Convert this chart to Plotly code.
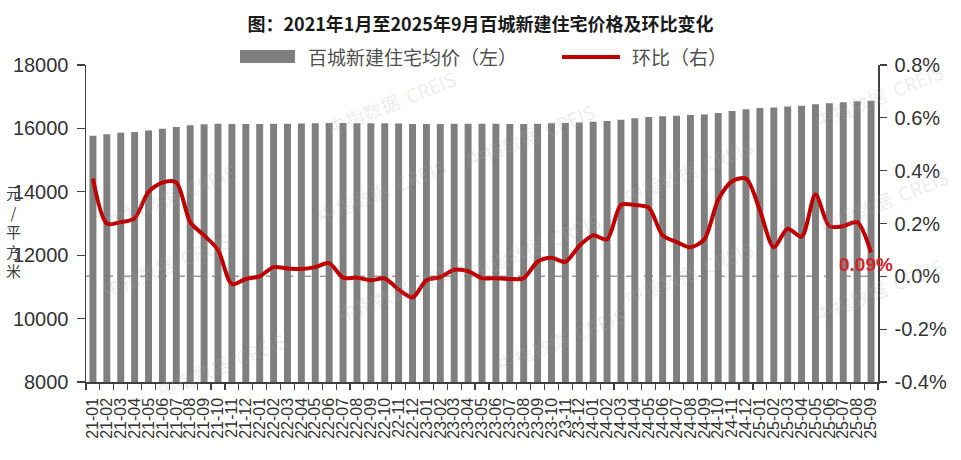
import plotly.graph_objects as go

# ---------------- data ----------------
months = [f"{y % 100:02d}-{m:02d}" for y in range(2021, 2026) for m in range(1, 13)][:57]

price = [15770, 15815, 15860, 15885, 15935, 15990, 16045, 16100, 16128, 16143,
         16140, 16138, 16139, 16144, 16149, 16154, 16160, 16168, 16167, 16166,
         16164, 16163, 16155, 16142, 16140, 16139, 16143, 16146, 16145, 16144,
         16142, 16141, 16150, 16161, 16170, 16188, 16212, 16234, 16276, 16318,
         16358, 16382, 16402, 16420, 16442, 16488, 16545, 16604, 16643, 16660,
         16690, 16714, 16764, 16795, 16826, 16858, 16872]

mom = [0.37, 0.20, 0.205, 0.22, 0.32, 0.355, 0.355, 0.205, 0.155, 0.10,
       -0.03, -0.01, 0.00, 0.035, 0.03, 0.028, 0.035, 0.05, -0.005, -0.005,
       -0.015, -0.008, -0.05, -0.08, -0.015, -0.003, 0.025, 0.02, -0.007, -0.007,
       -0.01, -0.007, 0.055, 0.07, 0.055, 0.115, 0.155, 0.14, 0.27, 0.27,
       0.26, 0.155, 0.13, 0.11, 0.14, 0.29, 0.36, 0.37, 0.25, 0.11,
       0.18, 0.15, 0.31, 0.19, 0.19, 0.205, 0.09]

left_ticks = [8000, 10000, 12000, 14000, 16000, 18000]
left_text = ["8000", "10000", "12000", "14000", "16000", "18000"]
right_ticks = [-0.4, -0.2, 0.0, 0.2, 0.4, 0.6, 0.8]
right_text = ["-0.4%", "-0.2%", "0.0%", "0.2%", "0.4%", "0.6%", "0.8%"]

title = "图：2021年1月至2025年9月百城新建住宅价格及环比变化"
bar_name = "百城新建住宅均价（左）"
line_name = "环比（右）"
y_title = "元<br>/<br>平<br>方<br>米"
last_label = "0.09%"
watermark = "中指数据  CREIS"

# ---------------- style ----------------
W, H = 961, 460
ML, MR, MT, MB = 86, 83, 65, 78
PW, PH = W - ML - MR, H - MT - MB

def px(x):
    return (x - ML) / PW

def py(y):
    return (H - MB - y) / PH

NUM_FONT = "Liberation Sans, Arial, sans-serif"
CJK_FONT = "Noto Sans CJK SC, sans-serif"
AXIS_COLOR = "#404040"
BAR_COLOR = "#7f7f7f"
LINE_COLOR = "#c00000"

fig = go.Figure()

fig.add_trace(go.Bar(
    x=months, y=price, name=bar_name,
    marker=dict(color=BAR_COLOR, line=dict(width=0)),
    yaxis="y", showlegend=False, hoverinfo="skip",
))

fig.add_trace(go.Scatter(
    x=months, y=mom, name=line_name, mode="lines",
    line=dict(color=LINE_COLOR, width=4, shape="spline", smoothing=0.8),
    yaxis="y2", showlegend=False, hoverinfo="skip",
))

shapes = []
# zero reference line of the right axis (dashed, behind bars)
shapes.append(dict(type="line", xref="paper", x0=0, x1=1, yref="y2", y0=0, y1=0,
                   line=dict(color="#9a9a9a", width=1.5, dash="dash"), layer="below"))
# custom legend
shapes.append(dict(type="rect", xref="paper", yref="paper",
                   x0=px(240), x1=px(295), y0=py(63), y1=py(50),
                   fillcolor=BAR_COLOR, line=dict(width=0)))
shapes.append(dict(type="line", xref="paper", yref="paper",
                   x0=px(562), x1=px(620), y0=py(57), y1=py(57),
                   line=dict(color=LINE_COLOR, width=4)))

annotations = []
annotations.append(dict(xref="paper", yref="paper", x=px(306), y=py(57),
                        text=bar_name, showarrow=False, xanchor="left", yanchor="middle",
                        font=dict(family=CJK_FONT, size=19, color="#505050")))
annotations.append(dict(xref="paper", yref="paper", x=px(630), y=py(57),
                        text=line_name, showarrow=False, xanchor="left", yanchor="middle",
                        font=dict(family=CJK_FONT, size=19, color="#505050")))
# y axis title (stacked characters)
annotations.append(dict(xref="paper", yref="paper", x=px(13), y=py(231),
                        text=y_title, showarrow=False, xanchor="center", yanchor="middle",
                        font=dict(family=CJK_FONT, size=15, color=AXIS_COLOR)))
# last value label
annotations.append(dict(x=months[-1], y=mom[-1], xref="x", yref="y2",
                        text="<b>" + last_label + "</b>", showarrow=False,
                        xanchor="center", yanchor="top", xshift=-5, yshift=1,
                        font=dict(family=NUM_FONT, size=19, color="#d92228")))
# faint watermarks
for (wx, wy) in [(320, 62), (530, 95), (100, 155), (310, 150), (760, 130),
                 (535, 245), (760, 272), (95, 305), (330, 330), (560, 380),
                 (150, 405), (950, 55), (955, 200), (950, 330)]:
    annotations.append(dict(xref="paper", yref="paper", x=px(wx), y=py(wy),
                            text=watermark, showarrow=False, textangle=-22,
                            font=dict(family=CJK_FONT, size=19, color="rgba(170,170,170,0.22)")))

fig.update_layout(
    width=W, height=H,
    margin=dict(l=ML, r=MR, t=MT, b=MB, autoexpand=False),
    paper_bgcolor="white", plot_bgcolor="white",
    bargap=0.5,
    hovermode=False,
    title=dict(text="<b>" + title + "</b>", x=0.5, xanchor="center",
               y=1 - 25 / H, yanchor="middle",
               font=dict(family=CJK_FONT, size=18, color="#1a1a1a")),
    xaxis=dict(
        type="category", range=[-0.5, len(months) - 0.5], autorange=False,
        tickmode="array", tickvals=months, ticktext=months,
        tickangle=-90, tickson="boundaries", ticks="outside", ticklen=6,
        tickcolor=AXIS_COLOR, tickwidth=1.2,
        showline=True, linecolor=AXIS_COLOR, linewidth=1.5, showgrid=False,
        ticklabelstandoff=8,
        tickfont=dict(family=NUM_FONT, size=16, color="#333333"),
    ),
    yaxis=dict(
        range=[8000, 18000], autorange=False, tickmode="array", tickvals=left_ticks, ticktext=left_text,
        ticks="outside", ticklen=8, tickcolor=AXIS_COLOR, tickwidth=1.2,
        showline=True, linecolor=AXIS_COLOR, linewidth=1.5, showgrid=False, zeroline=False,
        ticklabelstandoff=4,
        tickfont=dict(family=NUM_FONT, size=20, color="#333333"),
    ),
    yaxis2=dict(
        range=[-0.4, 0.8], autorange=False, overlaying="y", side="right",
        tickmode="array", tickvals=right_ticks, ticktext=right_text,
        ticks="outside", ticklen=7, tickcolor=AXIS_COLOR, tickwidth=1.2,
        showline=True, linecolor=AXIS_COLOR, linewidth=1.5, showgrid=False, zeroline=False,
        ticklabelstandoff=4,
        tickfont=dict(family=NUM_FONT, size=20, color="#333333"),
    ),
    shapes=shapes,
    annotations=annotations,
    showlegend=False,
)

fig.write_html("out.html",
               config={"displayModeBar": False, "staticPlot": True},
               post_script="document.body.style.margin='0';document.body.style.overflow='hidden';")
